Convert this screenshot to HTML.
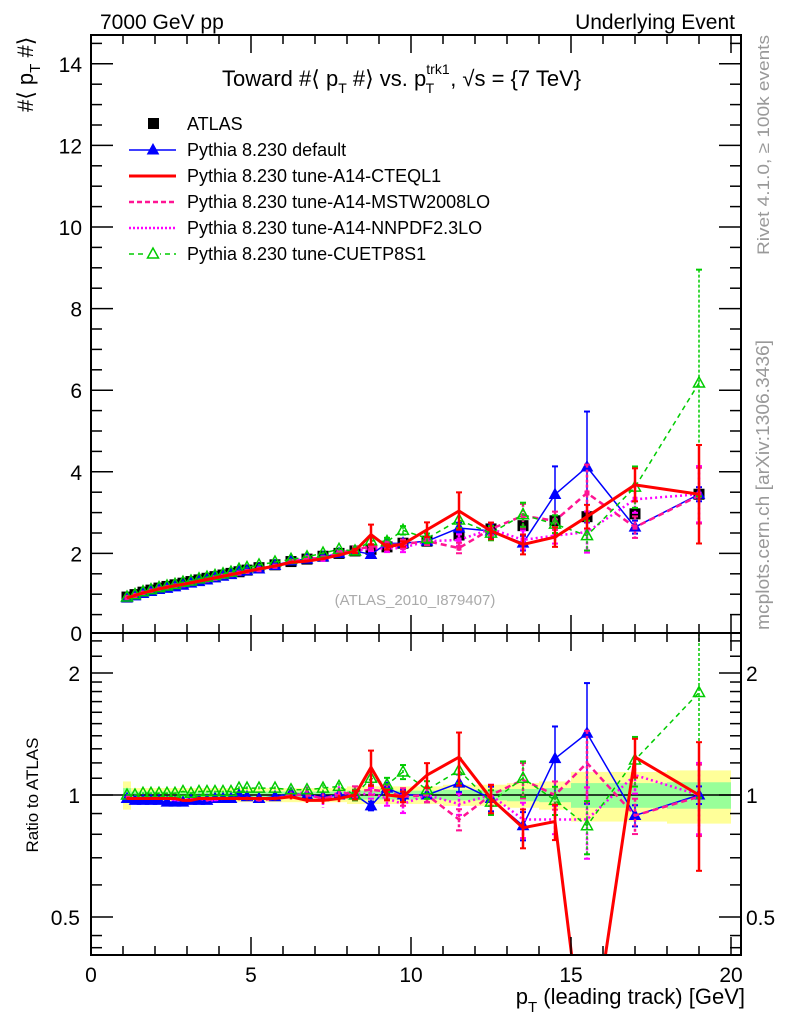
<!DOCTYPE html>
<html><head><meta charset="utf-8">
<style>
html,body{margin:0;padding:0;background:#fff;width:786px;height:1024px;overflow:hidden;}
svg{display:block;font-family:"Liberation Sans",sans-serif;}
</style></head>
<body>
<svg id="chart" width="786" height="1024" viewBox="0 0 786 1024" xmlns="http://www.w3.org/2000/svg">
<g id="bands"></g>
<g id="marks"></g>
<g id="axes"></g>
<text x="100" y="29" font-size="21">7000 GeV pp</text>
<text x="735" y="29" font-size="21" text-anchor="end">Underlying Event</text>
<text x="222" y="86" font-size="22">Toward #⟨ p<tspan font-size="14" dy="7">T</tspan><tspan dy="-7"> #⟩ vs. p</tspan><tspan font-size="14" dy="-12">trk1</tspan><tspan font-size="14" dx="-24" dy="19">T</tspan><tspan dx="16" dy="-7">, √s = {7 TeV}</tspan></text>
<text transform="translate(33,112) rotate(-90)" font-size="22">#⟨ p<tspan font-size="15" dy="7">T</tspan><tspan dy="-7"> #⟩</tspan></text>
<text transform="translate(38,795) rotate(-90)" font-size="17" text-anchor="middle">Ratio to ATLAS</text>
<text x="745" y="1004" font-size="22" text-anchor="end">p<tspan font-size="15" dy="8">T</tspan><tspan dy="-8"> (leading track) [GeV]</tspan></text>
<text transform="translate(769,255) rotate(-90)" font-size="17" fill="#999" textLength="220" lengthAdjust="spacingAndGlyphs">Rivet 4.1.0, ≥ 100k events</text>
<text transform="translate(769,630) rotate(-90)" font-size="18" fill="#999" textLength="290" lengthAdjust="spacingAndGlyphs">mcplots.cern.ch [arXiv:1306.3436]</text>
<text x="415" y="605" font-size="15" fill="#aaa" text-anchor="middle">(ATLAS_2010_I879407)</text>
<g id="legend"></g>
</svg>
<script>
// ---- data ----
const xCenters=[1.125,1.375,1.625,1.875,2.125,2.375,2.625,2.875,3.125,3.375,3.625,3.875,4.125,4.375,4.625,4.875,
5.25,5.75,6.25,6.75,7.25,7.75,8.25,8.75,9.25,9.75,10.5,11.5,12.5,13.5,14.5,15.5,17,19];
const xLow=[1,1.25,1.5,1.75,2,2.25,2.5,2.75,3,3.25,3.5,3.75,4,4.25,4.5,4.75,5,5.5,6,6.5,7,7.5,8,8.5,9,9.5,10,11,12,13,14,15,16,18];
const xHigh=[1.25,1.5,1.75,2,2.25,2.5,2.75,3,3.25,3.5,3.75,4,4.25,4.5,4.75,5,5.5,6,6.5,7,7.5,8,8.5,9,9.5,10,11,12,13,14,15,16,18,20];
const atlasValues=[0.93,0.99,1.05,1.10,1.15,1.19,1.23,1.27,1.31,1.35,1.39,1.43,1.47,1.51,1.55,1.59,
1.65,1.72,1.80,1.86,1.93,2.0,2.06,2.1,2.16,2.25,2.3,2.45,2.6,2.68,2.8,2.9,2.97,3.45];
const atlasTotal=[0.08,0.04,0.04,0.04,0.04,0.04,0.04,0.04,0.04,0.04,0.04,0.04,0.04,0.04,0.04,0.04,
0.04,0.04,0.04,0.04,0.04,0.04,0.05,0.05,0.05,0.05,0.05,0.06,0.06,0.07,0.08,0.14,0.14,0.15];
const blueRatio=[0.98,0.97,0.97,0.97,0.97,0.96,0.96,0.96,0.97,0.97,0.97,0.98,0.98,0.98,1.0,0.99,
0.98,0.99,1.01,1.0,0.99,1.0,1.0,0.94,1.04,1.0,1.0,1.07,0.98,0.84,1.23,1.42,0.89,1.0];
const redRatio=[0.98,0.98,0.98,0.98,0.98,0.98,0.98,0.97,0.97,0.98,0.98,0.98,0.98,0.98,0.98,0.98,
0.98,0.98,0.99,0.97,0.97,0.98,1.0,1.17,1.0,0.99,1.12,1.24,0.98,0.83,0.86,0.2,1.24,1.0];
const redMain=[0.91,0.97,1.03,1.08,1.13,1.17,1.21,1.24,1.28,1.32,1.36,1.40,1.44,1.48,1.52,1.56,
1.62,1.69,1.78,1.81,1.87,1.96,2.06,2.46,2.16,2.23,2.58,3.04,2.55,2.22,2.4,2.9,3.68,3.45];
const magDashRatio=[0.99,0.98,0.98,0.98,0.98,0.98,0.98,0.97,0.97,0.98,0.97,0.98,0.98,0.98,0.98,0.98,
0.97,0.98,1.0,1.0,0.98,1.0,1.02,1.03,1.02,0.99,1.0,0.87,1.0,1.09,1.0,1.2,0.89,0.99];
const magDotRatio=[0.99,0.98,0.98,0.98,0.98,0.98,0.97,0.97,0.98,0.98,0.97,0.97,0.98,0.98,0.98,0.98,
0.98,0.98,1.0,1.02,0.96,1.02,1.0,1.01,0.98,0.95,1.0,0.95,1.0,0.87,0.87,0.87,1.12,1.0];
const greenRatio=[1.0,1.0,1.01,1.01,1.01,1.01,1.01,1.02,1.01,1.02,1.02,1.02,1.02,1.02,1.04,1.04,
1.04,1.04,1.03,1.03,1.04,1.05,1.0,1.1,1.06,1.14,1.03,1.15,0.96,1.1,0.97,0.84,1.22,1.79];
const relErrBlue=[0.005,0.005,0.005,0.005,0.005,0.005,0.005,0.005,0.005,0.005,0.005,0.005,0.005,0.005,0.01,0.01,
0.01,0.01,0.015,0.015,0.02,0.02,0.02,0.025,0.03,0.03,0.04,0.05,0.07,0.08,0.2,0.33,0.06,0.05];
const relErrRed=[0.005,0.005,0.005,0.005,0.005,0.005,0.005,0.005,0.005,0.005,0.005,0.005,0.005,0.005,0.01,0.01,
0.01,0.01,0.015,0.015,0.02,0.02,0.025,0.1,0.03,0.03,0.07,0.15,0.08,0.11,0.1,0.1,0.11,0.35];
const relErrMag=[0.005,0.005,0.005,0.005,0.005,0.005,0.005,0.005,0.005,0.005,0.005,0.005,0.005,0.005,0.01,0.01,
0.01,0.01,0.02,0.03,0.03,0.03,0.03,0.03,0.04,0.05,0.04,0.06,0.06,0.1,0.08,0.2,0.1,0.2];
const relErrGreen=[0.005,0.005,0.005,0.005,0.005,0.005,0.005,0.005,0.005,0.005,0.005,0.005,0.005,0.005,0.01,0.01,
0.01,0.01,0.015,0.015,0.02,0.02,0.03,0.04,0.04,0.04,0.05,0.07,0.07,0.1,0.08,0.15,0.14,0.45];
const mainYTicks=[0,2,4,6,8,10,12,14];
const xTickLabels=[0,5,10,15,20];
const ratioTickLabels=[0.5,1,2];
const legendLabels=["ATLAS","Pythia 8.230 default","Pythia 8.230 tune-A14-CTEQL1","Pythia 8.230 tune-A14-MSTW2008LO","Pythia 8.230 tune-A14-NNPDF2.3LO","Pythia 8.230 tune-CUETP8S1"];

// ---- axes functions ----
const L=91,R=741,T=35,M=633,B=955;
const X=x=>L+x*32;
const Y=v=>635-v*40.8;
const YR=r=>795-122*Math.log2(r);
const clampR=y=>Math.max(M,Math.min(B,y));
const NS="http://www.w3.org/2000/svg";
function el(tag,attrs,parent){const e=document.createElementNS(NS,tag);for(const k in attrs)e.setAttribute(k,attrs[k]);parent.appendChild(e);return e;}
function clippedPath(pts,lo,hi){
  let d='';let pen=false;
  for(let i=0;i<pts.length-1;i++){
    let [x1,y1]=pts[i],[x2,y2]=pts[i+1];
    const clipY=(ya,yb,xa,xb,yt)=>xa+(xb-xa)*(yt-ya)/(yb-ya);
    if((y1<lo&&y2<lo)||(y1>hi&&y2>hi)){pen=false;continue;}
    let sx=x1,sy=y1,ex=x2,ey=y2;
    if(sy>hi){sx=clipY(y1,y2,x1,x2,hi);sy=hi;} else if(sy<lo){sx=clipY(y1,y2,x1,x2,lo);sy=lo;}
    if(ey>hi){ex=clipY(y1,y2,x1,x2,hi);ey=hi;} else if(ey<lo){ex=clipY(y1,y2,x1,x2,lo);ey=lo;}
    if(!pen||sx!==x1||sy!==y1)d+=`M${sx},${sy}`;
    d+=`L${ex},${ey}`;
    pen=(ex===x2&&ey===y2);
  }
  return d;
}
const bands=document.getElementById('bands'),marks=document.getElementById('marks'),axes=document.getElementById('axes'),legend=document.getElementById('legend');

xCenters.forEach((x,i)=>{
  const ty=el('rect',{x:X(xLow[i]),width:X(xHigh[i])-X(xLow[i]),y:YR(1+atlasTotal[i]),height:YR(1-atlasTotal[i])-YR(1+atlasTotal[i]),fill:'#ffff99'},bands);
  
  
  const gs=el('rect',{x:X(xLow[i]),width:X(xHigh[i])-X(xLow[i]),y:YR(1+atlasTotal[i]*0.5),height:YR(1-atlasTotal[i]*0.5)-YR(1+atlasTotal[i]*0.5),fill:'#99ff99'},bands);
  
  
});
const oneLine=el('line',{x1:L,x2:R,y1:YR(1),y2:YR(1),stroke:'#000','stroke-width':1.5},bands);



const series=[
 {name:'blue-default',color:'#0000ff',w:1.5,dash:'',ratio:blueRatio,err:relErrBlue,marker:'tri'},
 {name:'magenta-nnpdf',color:'#ff00ff',w:2.5,dash:'2 3',ratio:magDotRatio,err:relErrMag,marker:'dot'},
 {name:'pink-mstw',color:'#ff1493',w:2.5,dash:'6 4',ratio:magDashRatio,err:relErrMag,marker:'dot'},
 {name:'green-cuetp8s1',color:'#00cc00',w:1.5,dash:'5 4',ratio:greenRatio,err:relErrGreen,marker:'otri'},
 {name:'red-cteql1',color:'#ff0000',w:3,dash:'',ratio:redRatio,err:relErrRed,marker:'none',main:redMain}
];
function tri(g,x,y,c,open){const p=el('polygon',{points:`${x},${y-6} ${x-5.5},${y+4} ${x+5.5},${y+4}`,fill:open?'none':c,stroke:c,'stroke-width':open?1.5:1},g);}
series.forEach(s=>{
  const g=el('g',{},marks);
  
  
  const mainV=xCenters.map((x,i)=>s.main?s.main[i]:atlasValues[i]*s.ratio[i]);
  const ptsMain=xCenters.map((x,i)=>[X(x),Y(mainV[i])]);
  const ptsRatio=xCenters.map((x,i)=>[X(x),YR(s.ratio[i])]);
  const lm=el('path',{d:clippedPath(ptsMain,T,M),fill:'none',stroke:s.color,'stroke-width':s.w,'stroke-dasharray':s.dash},g);
  
  
  const lr=el('path',{d:clippedPath(ptsRatio,M,B),fill:'none',stroke:s.color,'stroke-width':s.w,'stroke-dasharray':s.dash},g);
  
  
  xCenters.forEach((x,i)=>{
    const e=s.err[i]*mainV[i];
    const px=X(x);
    const eb=el('line',{x1:px,x2:px,y1:Math.max(T,Y(mainV[i]+e)),y2:Math.min(M,Y(mainV[i]-e)),stroke:s.color,'stroke-width':s.w>2?2.5:1.5,'stroke-dasharray':s.dash?'3 2':''},g);
    
    
    const er=el('line',{x1:px,x2:px,y1:clampR(YR(s.ratio[i]*(1+s.err[i]))),y2:clampR(YR(Math.max(0.01,s.ratio[i]*(1-s.err[i])))),stroke:s.color,'stroke-width':s.w>2?2.5:1.5,'stroke-dasharray':s.dash?'3 2':''},g);
    
    
    if(i>=22){
      [Y(mainV[i]+e),Y(mainV[i]-e)].forEach(yy=>{if(yy<=T+1||yy>=M-1)return;const c=el('line',{x1:px-3,x2:px+3,y1:yy,y2:yy,stroke:s.color,'stroke-width':2},g);});
      [YR(s.ratio[i]*(1+s.err[i])),YR(s.ratio[i]*(1-s.err[i]))].forEach(yy=>{if(yy<=M+1||yy>=B-1)return;const c=el('line',{x1:px-3,x2:px+3,y1:yy,y2:yy,stroke:s.color,'stroke-width':2},g);});
    }
    const yr=YR(s.ratio[i]);
    if(s.marker==='tri'){tri(g,px,Y(mainV[i]),s.color,false);if(yr>M&&yr<B)tri(g,px,yr,s.color,false);}
    else if(s.marker==='otri'){tri(g,px,Y(mainV[i]),s.color,true);if(yr>M&&yr<B)tri(g,px,yr,s.color,true);}
    else if(s.marker==='dot'){const d=el('rect',{x:px-2.5,y:Y(mainV[i])-2.5,width:5,height:5,fill:s.color},g);}
  });
});
const ag=el('g',{},marks);


xCenters.forEach((x,i)=>{
  const r=el('rect',{x:X(x)-5.5,y:Y(atlasValues[i])-5.5,width:11,height:11,fill:'#000'},ag);
  
  
});
marks.insertBefore(ag,marks.firstChild);

const f1=el('rect',{x:L,y:T,width:R-L,height:M-T,fill:'none',stroke:'#000','stroke-width':2},axes);


const f2=el('rect',{x:L,y:M,width:R-L,height:B-M,fill:'none',stroke:'#000','stroke-width':2},axes);


for(let v=0;v<=20;v++){
  const len=v%5===0?18:9;const px=X(v);
  [[B,-1],[M,-1],[M,1],[T,1]].forEach(([y0,d])=>{const t=el('line',{x1:px,x2:px,y1:y0,y2:y0+d*len,stroke:'#000','stroke-width':1.5},axes);});
}
xTickLabels.forEach(v=>{const t=el('text',{x:X(v),y:982,'font-size':21,'text-anchor':'middle'},axes);t.textContent=v;});
for(let v=0.5;v<=14.5;v+=0.5){
  const major=Math.abs(v%2)<1e-9;const len=major?22:11;const py=Y(v);
  [[L,1],[R,-1]].forEach(([x0,d])=>{const t=el('line',{x1:x0,x2:x0+d*len,y1:py,y2:py,stroke:'#000','stroke-width':1.5},axes);});
}
mainYTicks.forEach(v=>{const t=el('text',{x:82,y:Math.min(Y(v)+8,641),'font-size':21,'text-anchor':'end'},axes);t.textContent=v;});
[0.5,0.6,0.7,0.8,0.9,1,1.1,1.2,1.3,1.4,1.5,1.6,1.7,1.8,1.9,2,2.2,2.4,0.45,0.42].forEach(v=>{
  const major=ratioTickLabels.includes(v);const len=major?22:11;const py=YR(v);
  if(py<M||py>B)return;
  [[L,1],[R,-1]].forEach(([x0,d])=>{const t=el('line',{x1:x0,x2:x0+d*len,y1:py,y2:py,stroke:'#000','stroke-width':1.5},axes);});
});
ratioTickLabels.forEach(v=>{
  const t=el('text',{x:80,y:YR(v)+8,'font-size':21,'text-anchor':'end'},axes);t.textContent=v;
  const t2=el('text',{x:746,y:YR(v)+8,'font-size':21},axes);t2.textContent=v;
});

const legendStyles=[
 {c:'#000',w:0,dash:'',m:'sq'},{c:'#0000ff',w:1.5,dash:'',m:'tri'},{c:'#ff0000',w:3,dash:'',m:''},
 {c:'#ff1493',w:2.5,dash:'5 3',m:''},{c:'#ff00ff',w:2.5,dash:'2 2',m:''},{c:'#00cc00',w:1.5,dash:'5 4',m:'otri'}];
legendLabels.forEach((lab,i)=>{
  const y=124+i*26;const s=legendStyles[i];
  const g=el('g',{},legend);
  
  
  if(s.w>0)el('line',{x1:129,x2:176,y1:y,y2:y,stroke:s.c,'stroke-width':s.w,'stroke-dasharray':s.dash},g);
  if(s.m==='sq')el('rect',{x:148,y:y-6,width:11,height:11,fill:'#000'},g);
  if(s.m==='tri')tri(g,153,y,s.c,false);
  if(s.m==='otri'){el('rect',{x:146,y:y-7,width:14,height:13,fill:'#fff'},g);tri(g,153,y,s.c,true);}
  const t=el('text',{x:187,y:y+6,'font-size':18},g);t.textContent=lab;
});
</script>
</body></html>
